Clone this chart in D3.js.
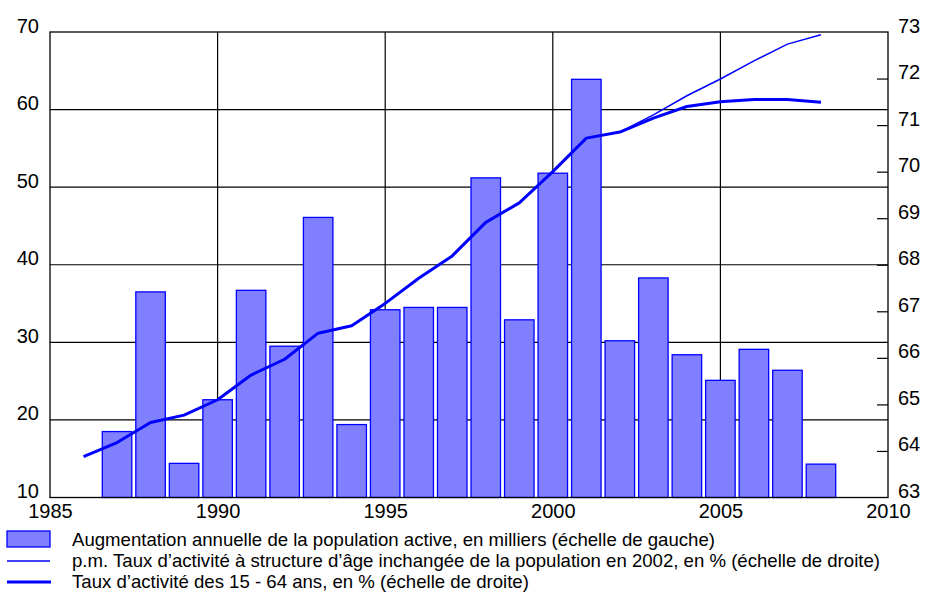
<!DOCTYPE html>
<html>
<head>
<meta charset="utf-8">
<script src="https://cdn.jsdelivr.net/npm/d3@7"></script>
<style>
  body { margin: 0; background: #fff; }
  svg { display: block; font-family: "Liberation Sans", Arial, sans-serif; }
</style>
</head>
<body>
<div id="chart"></div>
<script>
// Data
const barYears = [1987, 1988, 1989, 1990, 1991, 1992, 1993, 1994, 1995, 1996, 1997,
                  1998, 1999, 2000, 2001, 2002, 2003, 2004, 2005, 2006, 2007, 2008];
const barValues = [18.5, 36.5, 14.4, 22.6, 36.7, 29.5, 46.1, 19.4, 34.2, 34.5, 34.5,
                   51.2, 32.9, 51.8, 63.9, 30.2, 38.3, 28.4, 25.1, 29.1, 26.4, 14.3];

const rateYears = [1986, 1987, 1988, 1989, 1990, 1991, 1992, 1993, 1994, 1995, 1996, 1997,
                   1998, 1999, 2000, 2001, 2002, 2003, 2004, 2005, 2006, 2007, 2008];
const rateValues = [63.88, 64.18, 64.61, 64.77, 65.10, 65.63, 65.97, 66.53, 66.69, 67.17, 67.71, 68.19,
                    68.91, 69.33, 70.0, 70.72, 70.85, 71.15, 71.40, 71.50, 71.55, 71.55, 71.49];

const constYears = [2002, 2003, 2004, 2005, 2006, 2007, 2008];
const constValues = [70.85, 71.22, 71.63, 71.99, 72.38, 72.74, 72.94];

const xTicks = [1985, 1990, 1995, 2000, 2005, 2010];
const leftTicks = [10, 20, 30, 40, 50, 60, 70];
const rightTicks = [63, 64, 65, 66, 67, 68, 69, 70, 71, 72, 73];

const legendLabels = [
    "Augmentation annuelle de la population active, en milliers (échelle de gauche)",
    "p.m. Taux d\u2019activité à structure d\u2019âge inchangée de la population en 2002, en % (échelle de droite)",
    "Taux d\u2019activité des 15 - 64 ans, en % (échelle de droite)"
];

// Layout
const width = 925, height = 592;
const plot = { left: 50, right: 888, top: 32, bottom: 497.5 };
const blue = "#0000ff", barFill = "#8080ff";

const x = d3.scaleLinear().domain([1985, 2010]).range([plot.left, plot.right]);
const yL = d3.scaleLinear().domain([10, 70]).range([plot.bottom, plot.top]);
const yR = d3.scaleLinear().domain([63, 73]).range([plot.bottom, plot.top]);
const barW = (x(1986) - x(1985)) * 0.88;

const svg = d3.select("#chart").append("svg").attr("width", width).attr("height", height);

// Gridlines
svg.append("g").selectAll("line")
    .data(leftTicks.slice(1, -1))
    .enter().append("line")
    .attr("x1", plot.left).attr("x2", plot.right)
    .attr("y1", d => yL(d)).attr("y2", d => yL(d))
    .attr("stroke", "#000").attr("stroke-width", 1.2);

svg.append("g").selectAll("line")
    .data(xTicks.slice(1, -1))
    .enter().append("line")
    .attr("x1", d => x(d)).attr("x2", d => x(d))
    .attr("y1", plot.top).attr("y2", plot.bottom)
    .attr("stroke", "#000").attr("stroke-width", 1.2);

// Bars
svg.append("g").selectAll("rect")
    .data(barYears.map((yr, i) => ({ yr, v: barValues[i] })))
    .enter().append("rect")
    .attr("x", d => x(d.yr) - barW / 2)
    .attr("width", barW)
    .attr("y", d => yL(d.v))
    .attr("height", d => yL(10) - yL(d.v))
    .attr("fill", barFill)
    .attr("stroke", blue)
    .attr("stroke-width", 1.3);

// Lines
const line = d3.line().x(d => x(d.yr)).y(d => yR(d.v));

svg.append("path")
    .datum(constYears.map((yr, i) => ({ yr, v: constValues[i] })))
    .attr("fill", "none").attr("stroke", blue).attr("stroke-width", 1.5)
    .attr("d", line);

svg.append("path")
    .datum(rateYears.map((yr, i) => ({ yr, v: rateValues[i] })))
    .attr("fill", "none").attr("stroke", blue).attr("stroke-width", 3)
    .attr("stroke-linejoin", "round")
    .attr("d", line);

// Frame
svg.append("rect")
    .attr("x", plot.left).attr("y", plot.top)
    .attr("width", plot.right - plot.left).attr("height", plot.bottom - plot.top)
    .attr("fill", "none").attr("stroke", "#000").attr("stroke-width", 1.3);

// Axes
const bottomAxis = svg.append("g")
    .attr("transform", `translate(0, ${plot.bottom})`)
    .call(d3.axisBottom(x).tickValues(xTicks).tickFormat(d3.format("d")).tickSize(0).tickPadding(6));

const leftAxis = svg.append("g")
    .attr("transform", `translate(${plot.left}, 0)`)
    .call(d3.axisLeft(yL).tickValues(leftTicks).tickSize(0).tickPadding(11));

const rightAxis = svg.append("g")
    .attr("transform", `translate(${plot.right}, 0)`)
    .call(d3.axisRight(yR).tickValues(rightTicks).tickSizeInner(-11).tickSizeOuter(0).tickPadding(10));

[bottomAxis, leftAxis, rightAxis].forEach(g => {
    g.select(".domain").remove();
    g.selectAll("text").attr("font-size", 20).attr("font-family", "Liberation Sans, Arial, sans-serif").attr("fill", "#000");
});
leftAxis.selectAll("text").attr("dy", "0.0em");
rightAxis.selectAll("text").attr("dy", "0.0em");
rightAxis.selectAll("line").attr("stroke", "#000").attr("stroke-width", 1.2);
rightAxis.selectAll(".tick").filter(d => d === 63 || d === 73).select("line").remove();

// Legend
const legend = svg.append("g");
legend.append("rect")
    .attr("x", 7).attr("y", 531).attr("width", 43).attr("height", 16)
    .attr("fill", barFill).attr("stroke", blue).attr("stroke-width", 1.3);
legend.append("line")
    .attr("x1", 7).attr("x2", 50).attr("y1", 561).attr("y2", 561)
    .attr("stroke", blue).attr("stroke-width", 1.5);
legend.append("line")
    .attr("x1", 7).attr("x2", 51).attr("y1", 582).attr("y2", 582)
    .attr("stroke", blue).attr("stroke-width", 3);

legend.selectAll("text")
    .data(legendLabels)
    .enter().append("text")
    .attr("x", 72)
    .attr("y", (d, i) => 545.5 + i * 21.3)
    .attr("font-size", 18.6)
    .attr("fill", "#000")
    .text(d => d);
</script>
</body>
</html>
